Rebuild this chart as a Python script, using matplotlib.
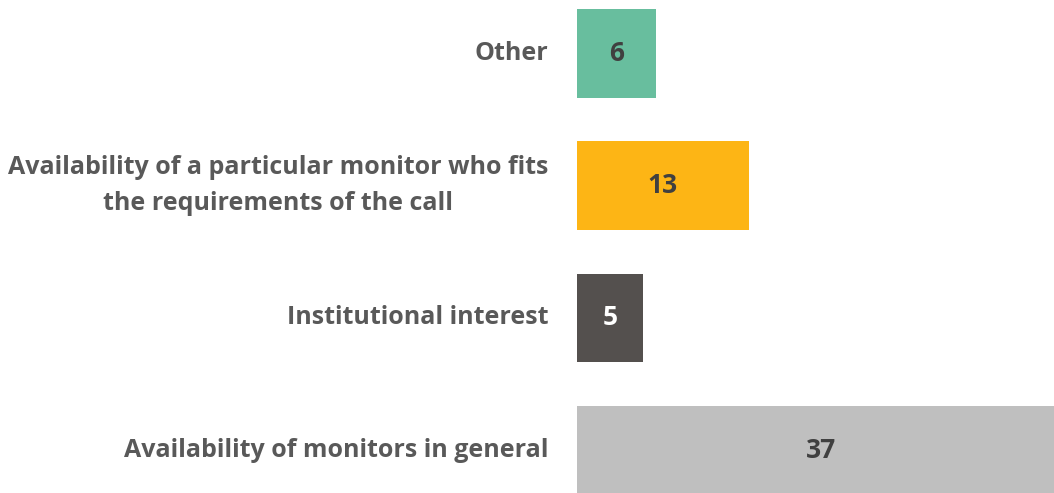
import matplotlib
matplotlib.use('Agg')
import matplotlib.pyplot as plt

categories = [
    "Availability of monitors in general",
    "Institutional interest",
    "Availability of a particular monitor who fits\nthe requirements of the call",
    "Other",
]
values = [37, 5, 13, 6]
colors = ["#BFBFBF", "#54504E", "#FDB515", "#68BE9E"]
value_colors = ["#404040", "#FFFFFF", "#404040", "#404040"]

fig = plt.figure(figsize=(10.54, 4.93), dpi=100)
ax = fig.add_axes([577 / 1054, 0, 477 / 1054, 1])

ypos = list(range(len(categories)))
ax.barh(ypos, values, height=0.67, color=colors)

ax.set_xlim(0, 36.14)
ax.set_ylim(-0.325, 3.405)

for y, v, c in zip(ypos, values, value_colors):
    ax.text(v / 2, y, str(v), ha='center', va='center', color=c,
            fontsize=19, fontweight='bold', family='Open Sans')

for y, lab in zip(ypos, categories):
    ax.text(-29 / 13.2, y, lab, ha='right', va='center', color='#595959',
            fontsize=18, fontweight='bold', family='Open Sans',
            multialignment='center', linespacing=1.6, clip_on=False)

ax.axis('off')

fig.savefig('out.png', dpi=100)
